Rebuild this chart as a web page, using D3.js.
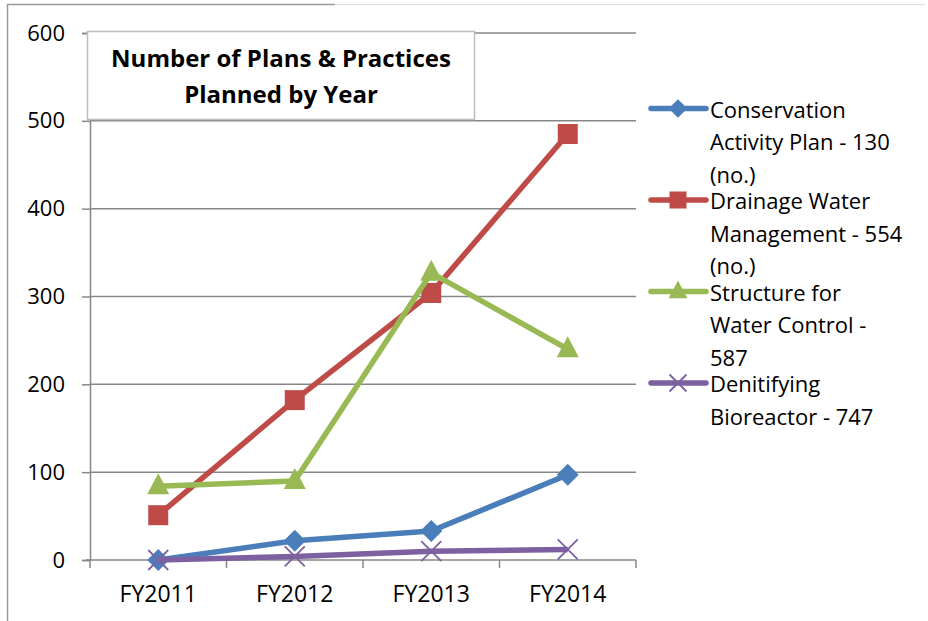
<!DOCTYPE html>
<html>
<head>
<meta charset="utf-8">
<script src="https://cdn.jsdelivr.net/npm/d3@7"></script>
<style>
  html, body { margin: 0; padding: 0; background: #fff; }
  svg { display: block; font-family: "Open Sans", "Noto Sans", sans-serif; }
</style>
</head>
<body>
<div id="chart"></div>
<script>
(function () {
  'use strict';

  const years = ['FY2011', 'FY2012', 'FY2013', 'FY2014'];
  const yTicks = [0, 100, 200, 300, 400, 500, 600];

  const conservationPlan = [0, 22, 33, 97];
  const drainageWater    = [51, 182, 304, 485];
  const structureControl = [84, 90, 327, 240];
  const bioreactor       = [0, 4, 10, 12];

  const series = [
    { lines: ['Conservation', 'Activity Plan - 130', '(no.)'], values: conservationPlan, color: '#4A7EBB', marker: 'diamond' },
    { lines: ['Drainage Water', 'Management - 554', '(no.)'], values: drainageWater, color: '#BE4B48', marker: 'square' },
    { lines: ['Structure for', 'Water Control -', '587'], values: structureControl, color: '#98B954', marker: 'triangle' },
    { lines: ['Denitifying', 'Bioreactor - 747'], values: bioreactor, color: '#7D60A0', marker: 'x' }
  ];

  const W = 928, H = 621;
  const PLOT = { left: 90, right: 636, top: 33, bottom: 560 };
  const GRID = '#878787';

  const svg = d3.select('#chart').append('svg')
    .attr('width', W).attr('height', H);

  // outer frame remnants
  svg.append('path')
    .attr('d', 'M7.5,621 V4.5 H335')
    .attr('fill', 'none').attr('stroke', '#9a9a9a').attr('stroke-width', 1.5);
  svg.append('path')
    .attr('d', 'M335,4.5 H925')
    .attr('fill', 'none').attr('stroke', '#dcdcdc').attr('stroke-width', 1);

  const x = d3.scaleBand().domain(years).range([PLOT.left, PLOT.right]);
  const y = d3.scaleLinear().domain([0, 600]).range([PLOT.bottom, PLOT.top]);
  const cx = d => x(d) + x.bandwidth() / 2;

  // gridlines
  svg.append('g')
    .selectAll('line')
    .data(yTicks.filter(t => t > 0))
    .join('line')
    .attr('x1', PLOT.left).attr('x2', PLOT.right)
    .attr('y1', d => y(d)).attr('y2', d => y(d))
    .attr('stroke', GRID).attr('stroke-width', 1.5);

  // y axis
  const yAxis = svg.append('g')
    .attr('transform', `translate(${PLOT.left},0)`)
    .call(d3.axisLeft(y).tickValues(yTicks).tickSize(8).tickPadding(17));
  yAxis.select('.domain').attr('stroke', GRID).attr('stroke-width', 1.5);
  yAxis.selectAll('.tick line').attr('stroke', GRID).attr('stroke-width', 1.5);
  yAxis.selectAll('.tick text')
    .attr('font-size', 22).attr('fill', '#000')
    .attr('font-family', '"Open Sans", sans-serif');

  // x axis (tick marks between categories)
  const xAxis = svg.append('g')
    .attr('transform', `translate(0,${PLOT.bottom})`)
    .call(d3.axisBottom(x).tickSize(0).tickPadding(26));
  xAxis.select('.domain').remove();
  xAxis.append('line')
    .attr('x1', PLOT.left - 4).attr('x2', PLOT.right)
    .attr('stroke', GRID).attr('stroke-width', 1.5);
  xAxis.selectAll('.sep')
    .data(years.map(d => x(d)).concat([PLOT.right]))
    .join('line')
    .attr('class', 'sep')
    .attr('x1', d => d).attr('x2', d => d)
    .attr('y1', 0).attr('y2', 8)
    .attr('stroke', GRID).attr('stroke-width', 1.5);
  xAxis.selectAll('.tick text')
    .attr('font-size', 23).attr('fill', '#000')
    .attr('font-family', '"Open Sans", sans-serif');

  function drawMarker(g, type, color, k) {
    k = k || 1;
    if (type === 'diamond') {
      g.append('path').attr('d', `M0,${-11 * k} L${11 * k},0 L0,${11 * k} L${-11 * k},0 Z`).attr('fill', color);
    } else if (type === 'square') {
      g.append('rect').attr('x', -10 * k).attr('y', -10 * k)
        .attr('width', 20 * k).attr('height', 20 * k).attr('fill', color);
    } else if (type === 'triangle') {
      g.append('path').attr('d', `M0,${-13 * k} L${11 * k},${8 * k} L${-11 * k},${8 * k} Z`).attr('fill', color);
    } else {
      g.append('path').attr('d', `M${-10 * k},${-10 * k} L${10 * k},${10 * k} M${-10 * k},${10 * k} L${10 * k},${-10 * k}`)
        .attr('stroke', color).attr('stroke-width', 1.8).attr('fill', 'none');
    }
  }

  const line = d3.line().x((d, i) => cx(years[i])).y(d => y(d));

  series.forEach(s => {
    svg.append('path')
      .datum(s.values)
      .attr('d', line)
      .attr('fill', 'none')
      .attr('stroke', s.color)
      .attr('stroke-width', 5.5)
      .attr('stroke-linejoin', 'round');
    s.values.forEach((v, i) => {
      const g = svg.append('g').attr('transform', `translate(${cx(years[i])},${y(v)})`);
      drawMarker(g, s.marker, s.color);
    });
  });

  // title box
  const tb = svg.append('g');
  tb.append('rect')
    .attr('x', 87.5).attr('y', 31.5).attr('width', 387).attr('height', 88)
    .attr('fill', '#fff').attr('stroke', '#bdbdbd').attr('stroke-width', 1.5);
  tb.append('text')
    .attr('x', 281).attr('text-anchor', 'middle')
    .attr('font-size', 24).attr('font-weight', 'bold').attr('fill', '#000')
    .selectAll('tspan')
    .data(['Number of Plans & Practices', 'Planned by Year'])
    .join('tspan')
    .attr('x', 281)
    .attr('y', (d, i) => 67 + i * 36)
    .text(d => d);

  // legend
  const LH = 32.7;
  let ly = 108.5;
  series.forEach(s => {
    const g = svg.append('g').attr('transform', `translate(0,${ly})`);
    g.append('line')
      .attr('x1', 651).attr('x2', 706)
      .attr('stroke', s.color).attr('stroke-width', 5.5).attr('stroke-linecap', 'round');
    const mg = g.append('g').attr('transform', 'translate(678,0)');
    drawMarker(mg, s.marker, s.color, 0.85);
    g.append('text')
      .attr('font-size', 22).attr('fill', '#000')
      .selectAll('tspan')
      .data(s.lines)
      .join('tspan')
      .attr('x', 710)
      .attr('y', (d, i) => 9 + i * LH)
      .text(d => d);
    ly += 91.5;
  });
})();
</script>
</body>
</html>
